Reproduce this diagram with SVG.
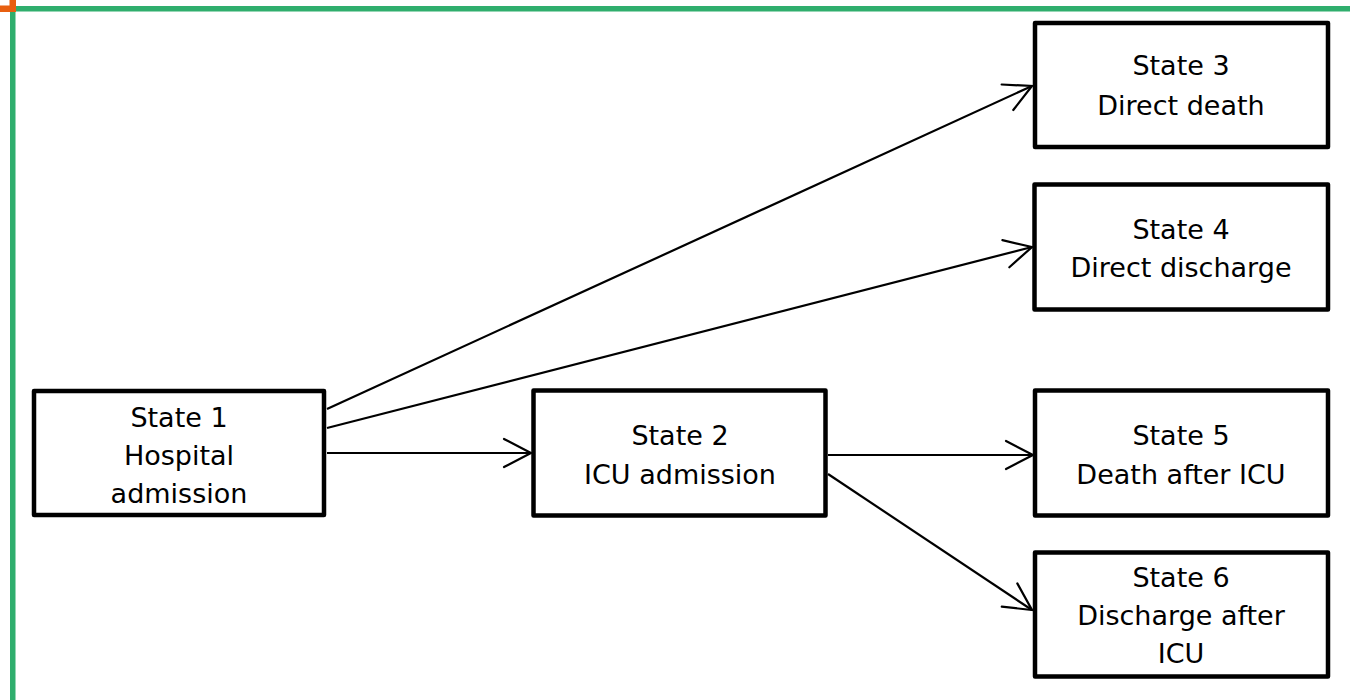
<svg xmlns="http://www.w3.org/2000/svg" width="1350" height="700" viewBox="0 0 1350 700">
  <style>
    .box { fill: #ffffff; stroke: #000000; stroke-width: 4.5; stroke-linejoin: round; }
    .lbl { font-family: "DejaVu Sans", "Liberation Sans", sans-serif; font-size: 27px; fill: #000000; text-anchor: middle; }
    .edge { fill: none; stroke: #000000; stroke-width: 2.2; marker-end: url(#arrow); }
  </style>
  <defs>
    <marker id="arrow" markerUnits="userSpaceOnUse" viewBox="-32 -20 40 40" markerWidth="40" markerHeight="40" refX="0" refY="0" orient="auto">
      <path d="M-27,-14 L0,0 L-27,14" fill="none" stroke="#000000" stroke-width="2.2" stroke-linecap="round" stroke-linejoin="miter"/>
    </marker>
  </defs>

  <rect width="1350" height="700" fill="#ffffff"/>

  <!-- frame rules -->
  <g id="frame">
    <rect x="16" y="6" width="1334" height="5.5" fill="#2fae6d"/>
    <rect x="10" y="12" width="5.5" height="688" fill="#2fae6d"/>
    <rect x="0" y="5.5" width="16" height="6.5" fill="#e85f10"/>
    <rect x="9.5" y="0" width="6.5" height="12" fill="#e85f10"/>
  </g>

  <!-- transitions -->
  <g id="connectors">
    <line class="edge" x1="327" y1="409" x2="1032" y2="86"/>
    <line class="edge" x1="327" y1="428" x2="1032" y2="247"/>
    <line class="edge" x1="327" y1="453" x2="531" y2="453"/>
    <line class="edge" x1="828" y1="455" x2="1033" y2="455"/>
    <line class="edge" x1="828" y1="474" x2="1032" y2="610"/>
  </g>

  <g id="state1">
    <rect class="box" x="34" y="391" width="290" height="124"/>
    <text class="lbl" x="179" y="427">State 1</text>
    <text class="lbl" x="179" y="465">Hospital</text>
    <text class="lbl" x="179" y="503">admission</text>
  </g>

  <g id="state2">
    <rect class="box" x="533.5" y="390.5" width="292" height="125"/>
    <text class="lbl" x="680" y="445">State 2</text>
    <text class="lbl" x="680" y="484">ICU admission</text>
  </g>

  <g id="state3">
    <rect class="box" x="1035" y="23" width="293" height="124"/>
    <text class="lbl" x="1181" y="75">State 3</text>
    <text class="lbl" x="1181" y="115">Direct death</text>
  </g>

  <g id="state4">
    <rect class="box" x="1034.5" y="184.5" width="293.5" height="125"/>
    <text class="lbl" x="1181" y="239">State 4</text>
    <text class="lbl" x="1181" y="277">Direct discharge</text>
  </g>

  <g id="state5">
    <rect class="box" x="1035" y="390.5" width="293" height="125"/>
    <text class="lbl" x="1181" y="445">State 5</text>
    <text class="lbl" x="1181" y="484">Death after ICU</text>
  </g>

  <g id="state6">
    <rect class="box" x="1035" y="552.5" width="293" height="124"/>
    <text class="lbl" x="1181" y="587">State 6</text>
    <text class="lbl" x="1181" y="625">Discharge after</text>
    <text class="lbl" x="1181" y="663">ICU</text>
  </g>
</svg>
